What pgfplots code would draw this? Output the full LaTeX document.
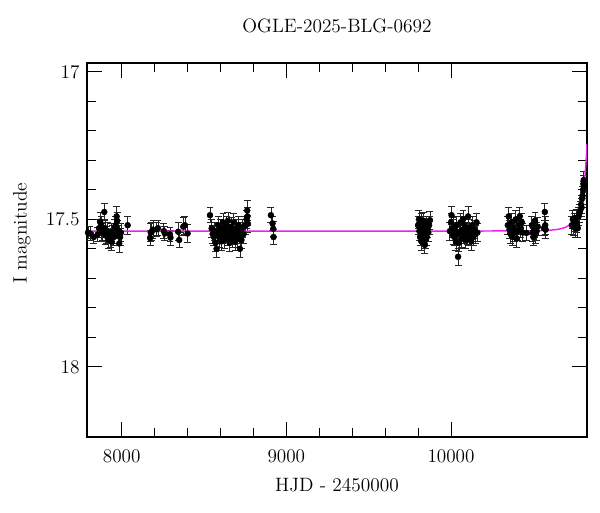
\documentclass[border=0pt]{standalone}
\usepackage{pgfplots}
\usepackage{pgfplotstable}
\pgfplotsset{compat=1.18}
\definecolor{modelmag}{RGB}{240,30,240}
\pgfplotstableread{
x y e
7795 17.545 0.020
7807 17.548 0.025
7830 17.560 0.020
7854 17.551 0.025
7862 17.530 0.030
7868 17.508 0.030
7875 17.520 0.030
7878 17.545 0.030
7885 17.540 0.030
7894 17.475 0.030
7898 17.530 0.030
7903 17.555 0.030
7909 17.553 0.030
7915 17.540 0.030
7920 17.570 0.030
7929 17.565 0.030
7935 17.545 0.030
7939 17.576 0.030
7945 17.550 0.030
7952 17.560 0.030
7958 17.530 0.030
7963 17.520 0.030
7969 17.490 0.035
7972 17.505 0.030
7975 17.535 0.030
7979 17.550 0.030
7985 17.582 0.030
7990 17.560 0.030
7995 17.545 0.030
8036 17.520 0.030
8172 17.563 0.025
8176 17.545 0.030
8182 17.542 0.030
8190 17.535 0.030
8212 17.534 0.025
8220 17.530 0.025
8256 17.540 0.025
8262 17.548 0.025
8293 17.551 0.025
8296 17.562 0.025
8343 17.542 0.030
8349 17.570 0.025
8374 17.525 0.030
8384 17.520 0.030
8400 17.548 0.030
8536 17.486 0.025
8546 17.531 0.030
8552 17.550 0.030
8560 17.560 0.030
8565 17.540 0.030
8570 17.580 0.030
8576 17.600 0.030
8580 17.550 0.030
8585 17.520 0.030
8590 17.545 0.030
8595 17.565 0.030
8600 17.530 0.030
8605 17.575 0.030
8610 17.550 0.030
8615 17.510 0.030
8620 17.535 0.030
8625 17.570 0.030
8630 17.545 0.030
8635 17.520 0.030
8640 17.560 0.030
8645 17.505 0.030
8650 17.540 0.030
8655 17.580 0.030
8660 17.550 0.030
8665 17.525 0.030
8670 17.565 0.030
8675 17.540 0.030
8680 17.510 0.030
8685 17.555 0.030
8690 17.575 0.030
8695 17.530 0.030
8700 17.545 0.030
8705 17.565 0.030
8710 17.520 0.030
8715 17.550 0.030
8718 17.600 0.030
8722 17.540 0.030
8727 17.570 0.030
8732 17.530 0.030
8740 17.550 0.030
8750 17.520 0.030
8758 17.500 0.030
8762 17.470 0.035
8764 17.490 0.030
8766 17.515 0.030
8906 17.486 0.025
8916 17.514 0.025
8920 17.532 0.025
8922 17.560 0.025
9800 17.520 0.030
9805 17.500 0.030
9808 17.540 0.030
9812 17.560 0.030
9815 17.530 0.030
9818 17.510 0.030
9820 17.575 0.030
9823 17.545 0.030
9826 17.520 0.030
9829 17.560 0.030
9832 17.535 0.030
9835 17.505 0.030
9838 17.550 0.030
9841 17.587 0.030
9844 17.570 0.030
9847 17.540 0.030
9850 17.520 0.030
9853 17.560 0.030
9857 17.530 0.030
9862 17.545 0.030
9867 17.520 0.030
9872 17.503 0.030
9993 17.540 0.030
10000 17.510 0.030
10003 17.486 0.030
10008 17.530 0.030
10012 17.555 0.030
10016 17.525 0.030
10020 17.560 0.030
10025 17.540 0.030
10030 17.575 0.030
10035 17.520 0.030
10040 17.550 0.030
10043 17.627 0.030
10048 17.580 0.030
10052 17.545 0.030
10058 17.510 0.030
10062 17.565 0.030
10068 17.535 0.030
10073 17.500 0.030
10078 17.550 0.030
10083 17.520 0.030
10088 17.570 0.030
10093 17.540 0.030
10098 17.555 0.030
10104 17.490 0.035
10108 17.530 0.030
10113 17.560 0.030
10118 17.545 0.030
10123 17.575 0.030
10128 17.520 0.030
10135 17.560 0.030
10142 17.535 0.030
10148 17.550 0.030
10155 17.510 0.030
10160 17.545 0.030
10345 17.520 0.030
10350 17.490 0.030
10355 17.535 0.030
10362 17.550 0.030
10368 17.510 0.030
10375 17.560 0.030
10380 17.530 0.030
10386 17.545 0.030
10393 17.500 0.030
10400 17.565 0.030
10405 17.540 0.030
10412 17.520 0.030
10418 17.490 0.030
10424 17.530 0.030
10430 17.510 0.030
10436 17.545 0.030
10459 17.546 0.025
10491 17.520 0.030
10496 17.545 0.030
10500 17.560 0.030
10505 17.530 0.030
10510 17.505 0.030
10515 17.550 0.030
10520 17.540 0.030
10527 17.525 0.030
10565 17.530 0.025
10570 17.475 0.030
10572 17.520 0.030
10575 17.535 0.030
10734 17.520 0.030
10740 17.500 0.030
10745 17.525 0.030
10750 17.510 0.030
10755 17.530 0.030
10760 17.495 0.030
10765 17.515 0.030
10770 17.530 0.030
10775 17.490 0.030
10780 17.480 0.030
10785 17.470 0.030
10790 17.450 0.030
10793 17.460 0.030
10796 17.430 0.030
10799 17.420 0.030
10802 17.400 0.030
10804 17.380 0.030
10806 17.367 0.030
10808 17.390 0.030
}\obsdata
\pgfplotstableread{
x y
7789 17.540
9000 17.540
10000 17.540
10500 17.539
10600 17.537
10650 17.534
10680 17.530
10700 17.526
10720 17.519
10740 17.509
10755 17.498
10770 17.482
10780 17.467
10790 17.447
10797 17.428
10803 17.405
10808 17.382
10813 17.355
10817 17.330
10820 17.305
10823 17.280
10826 17.245
}\modeldata
\begin{document}
\begin{tikzpicture}
\begin{axis}[
  scale only axis,
  width=375pt, height=280.5pt,
  xmin=7789, xmax=10826,
  ymin=16.97, ymax=18.238,
  y dir=reverse,
  xtick={8000,9000,10000},
  ytick={17,17.5,18},
  yticklabels={17,17.5,18},
  minor x tick num=4,
  minor y tick num=4,
  scaled ticks=false,
  /pgf/number format/1000 sep={},
  tick align=inside,
  major tick length=11pt,
  minor tick length=6.5pt,
  tick style={black, line width=0.55pt},
  axis line style={black, line width=0.9pt},
  tick label style={font=\fontsize{14.5}{17}\selectfont},
  xticklabel style={yshift=-6pt},
  yticklabel style={xshift=-2pt},
  label style={font=\fontsize{14.5}{17}\selectfont},
  xlabel={HJD - 2450000},
  ylabel={I magnitude},
  xlabel style={at={(axis description cs:0.5,0)}, anchor=base, yshift=-40.5pt},
  ylabel style={at={(axis description cs:-0.13,0.545)}, anchor=center},
  title={OGLE-2025-BLG-0692},
  title style={font=\fontsize{14.5}{17}\selectfont, at={(axis description cs:0.5,1)}, anchor=base, yshift=17pt},
  clip=true,
]
\addplot[only marks, mark=*, mark size=2.2pt, black,
  error bars/.cd, y dir=both, y explicit,
  error bar style={black!85, line width=0.6pt},
  error mark options={rotate=90, mark size=2.6pt, black!85, line width=0.6pt}]
  table[x=x, y=y, y error=e]{\obsdata};
\addplot[modelmag, line width=1.1pt, no marks] table[x=x, y=y]{\modeldata};
\end{axis}
\path[use as bounding box] ([xshift=-65.25pt,yshift=-56.25pt]current axis.south west) rectangle ([xshift=9.75pt,yshift=47.25pt]current axis.north east);
\end{tikzpicture}
\end{document}
